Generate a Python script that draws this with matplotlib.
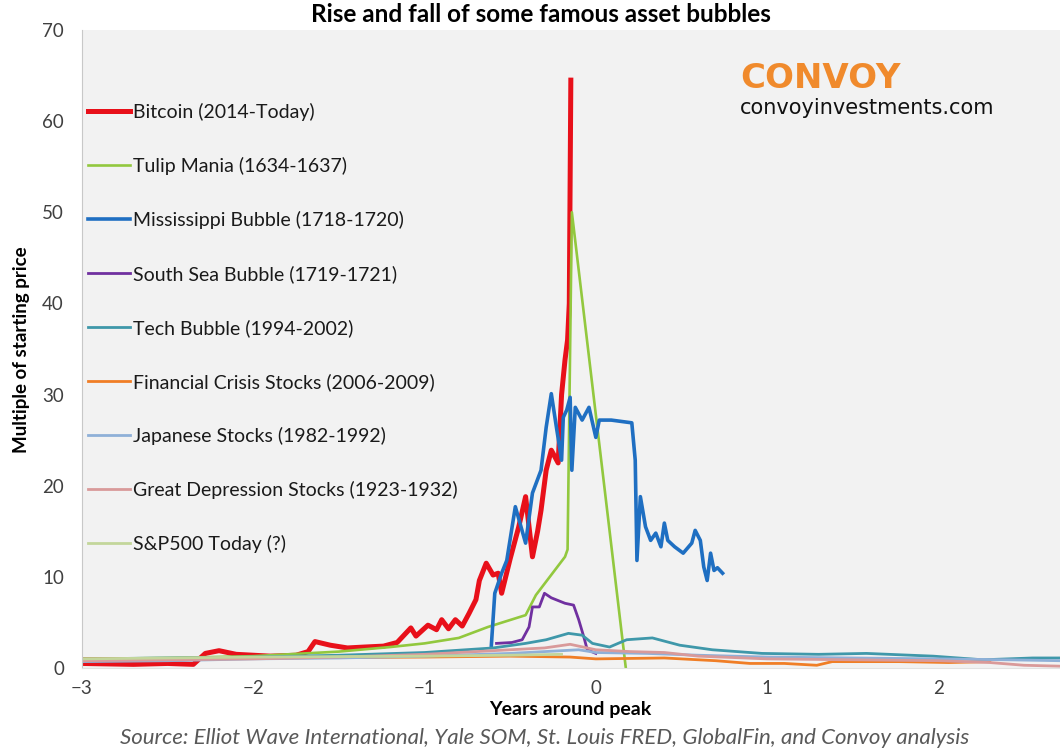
import matplotlib
matplotlib.use("Agg")
import matplotlib.pyplot as plt

# Series: years around peak vs multiple of starting price
btc_x = [-3.0, -2.7, -2.5, -2.35, -2.28, -2.2, -2.1, -2.0, -1.9, -1.75, -1.68, -1.64, -1.55,
         -1.45, -1.35, -1.24, -1.16, -1.08, -1.05, -0.98, -0.93, -0.9, -0.86, -0.82, -0.78,
         -0.74, -0.70, -0.68, -0.64, -0.60, -0.57, -0.55, -0.50, -0.45, -0.41, -0.37, -0.34,
         -0.32, -0.29, -0.26, -0.22, -0.20, -0.18, -0.165, -0.155, -0.146]
btc_y = [0.5, 0.4, 0.5, 0.4, 1.6, 1.9, 1.5, 1.4, 1.3, 1.4, 1.8, 2.9, 2.5, 2.2, 2.3, 2.4, 2.8,
         4.4, 3.5, 4.7, 4.2, 5.3, 4.3, 5.3, 4.6, 6.0, 7.5, 9.6, 11.5, 10.2, 10.4, 8.2, 12.0,
         15.5, 18.8, 12.2, 15.0, 17.3, 21.7, 23.9, 22.5, 30.0, 33.8, 36.0, 40.0, 64.5]

tulip_x = [-3.0, -2.5, -2.0, -1.5, -1.2, -1.0, -0.8, -0.63, -0.41, -0.35, -0.18, -0.165,
           -0.14, 0.175]
tulip_y = [1.0, 1.1, 1.3, 1.8, 2.3, 2.7, 3.3, 4.5, 5.8, 8.0, 12.2, 13.0, 50.0, 0.0]

miss_x = [-0.61, -0.59, -0.55, -0.52, -0.47, -0.41, -0.37, -0.32, -0.29, -0.26, -0.23,
          -0.20, -0.19, -0.17, -0.15, -0.14, -0.12, -0.08, -0.04, 0.0, 0.02, 0.09, 0.21,
          0.23, 0.24, 0.26, 0.29, 0.32, 0.35, 0.38, 0.40, 0.42, 0.46, 0.51, 0.56, 0.58,
          0.61, 0.63, 0.65, 0.67, 0.69, 0.71, 0.74]
miss_y = [2.5, 8.2, 10.4, 11.8, 17.7, 13.7, 19.2, 21.7, 26.4, 30.1, 26.4, 22.8, 27.5, 28.3,
          29.7, 21.7, 28.6, 27.2, 28.6, 25.3, 27.2, 27.2, 26.9, 22.8, 11.8, 18.8, 15.5,
          14.0, 14.8, 13.3, 15.9, 14.0, 13.3, 12.6, 13.7, 15.1, 14.0, 11.1, 9.6, 12.6,
          10.7, 11.0, 10.4]

ssea_x = [-0.58, -0.49, -0.43, -0.39, -0.37, -0.33, -0.30, -0.26, -0.18, -0.13, -0.10,
          -0.07, -0.05, 0.0]
ssea_y = [2.7, 2.8, 3.1, 4.5, 6.7, 6.7, 8.2, 7.7, 7.1, 6.9, 5.3, 3.4, 2.0, 1.6]

tech_x = [-3.0, -2.5, -2.0, -1.5, -1.0, -0.6, -0.41, -0.29, -0.16, -0.08, -0.02, 0.08,
          0.18, 0.33, 0.49, 0.68, 0.97, 1.3, 1.58, 1.97, 2.26, 2.55, 2.71]
tech_y = [1.0, 1.1, 1.2, 1.4, 1.7, 2.2, 2.7, 3.1, 3.8, 3.6, 2.7, 2.3, 3.1, 3.3, 2.5, 2.0,
          1.6, 1.5, 1.6, 1.3, 0.9, 1.1, 1.1]

fin_x = [-3.0, -2.0, -1.0, -0.5, -0.15, 0.0, 0.4, 0.7, 0.9, 1.1, 1.29, 1.38, 1.6, 1.77,
         2.06, 2.3]
fin_y = [1.0, 1.1, 1.2, 1.3, 1.2, 1.0, 1.1, 0.8, 0.5, 0.5, 0.3, 0.7, 0.7, 0.7, 0.6, 0.7]

japan_x = [-3.0, -2.5, -2.0, -1.5, -1.0, -0.5, -0.3, -0.1, 0.0, 0.3, 0.6, 1.0, 1.5, 2.0,
           2.4, 2.71]
japan_y = [0.7, 0.8, 1.0, 1.1, 1.3, 1.6, 1.8, 2.0, 1.7, 1.6, 1.4, 1.2, 1.1, 1.0, 0.9, 0.8]

depr_x = [-3.0, -2.5, -2.0, -1.5, -1.0, -0.6, -0.3, -0.15, 0.0, 0.2, 0.4, 0.6, 1.0, 1.5,
          2.0, 2.3, 2.5, 2.71]
depr_y = [0.8, 0.9, 1.0, 1.2, 1.5, 1.9, 2.2, 2.6, 2.0, 1.8, 1.7, 1.3, 1.0, 0.9, 0.8, 0.6,
          0.3, 0.2]

spx_x = [-3.0, -2.0, -1.0, -0.5, -0.2]
spx_y = [1.0, 1.2, 1.3, 1.4, 1.5]

labels = ["Bitcoin (2014-Today)", "Tulip Mania (1634-1637)", "Mississippi Bubble (1718-1720)",
          "South Sea Bubble (1719-1721)", "Tech Bubble (1994-2002)",
          "Financial Crisis Stocks (2006-2009)", "Japanese Stocks (1982-1992)",
          "Great Depression Stocks (1923-1932)", "S&P500 Today (?)"]
colors = ["#e8101a", "#92c83e", "#1f6fc2", "#7030a0", "#3f98aa", "#f07e26", "#8fb0d8",
          "#d99a9a", "#c3d69b"]
widths = [3.6, 1.9, 2.6, 2.0, 2.0, 2.0, 2.0, 2.0, 2.0]
series = [(btc_x, btc_y), (tulip_x, tulip_y), (miss_x, miss_y), (ssea_x, ssea_y),
          (tech_x, tech_y), (fin_x, fin_y), (japan_x, japan_y), (depr_x, depr_y),
          (spx_x, spx_y)]

plt.rcParams['font.family'] = ['Lato', 'DejaVu Sans']

fig = plt.figure(figsize=(10.6, 7.54), dpi=100)
ax = fig.add_axes([82 / 1060, 86 / 754, 978 / 1060, 638 / 754])
ax.set_facecolor('#f2f2f2')

for (xs, ys), lab, c, w in zip(series, labels, colors, widths):
    ax.plot(xs, ys, color=c, lw=w, label=lab, solid_joinstyle='round')

ax.set_xlim(-3, 2.71)
ax.set_ylim(0, 70)
ax.set_xticks([-3, -2, -1, 0, 1, 2])
ax.set_yticks(range(0, 71, 10))
ax.tick_params(length=0, labelsize=13.5, labelcolor='#404040')
ax.tick_params(axis='y', pad=13)
ax.tick_params(axis='x', pad=9)
for s in ['top', 'right']:
    ax.spines[s].set_visible(False)
ax.spines['left'].set_color('#c8c8c8')
ax.spines['bottom'].set_color('#e2e2e2')

leg = ax.legend(loc='upper left', bbox_to_anchor=(88 / 1060, 1 - 103 / 754),
                bbox_transform=fig.transFigure, frameon=False, fontsize=14,
                handlelength=2.15, handletextpad=0.15, labelspacing=1.85,
                borderpad=0, borderaxespad=0)
for t in leg.get_texts():
    t.set_color('#1a1a1a')

fig.text(541 / 1060, 1 - 15 / 754, "Rise and fall of some famous asset bubbles",
         ha='center', va='center', fontsize=17.5, fontweight='bold')
fig.text(570 / 1060, 1 - 710 / 754, "Years around peak", ha='center', va='center',
         fontsize=14, fontweight='bold')
fig.text(22 / 1060, 1 - 350 / 754, "Multiple of starting price", ha='center', va='center',
         rotation=90, fontsize=13.5, fontweight='bold')
fig.text(545 / 1060, 1 - 738 / 754,
         "Source: Elliot Wave International, Yale SOM, St. Louis FRED, GlobalFin, and Convoy analysis",
         ha='center', va='center', fontsize=16, style='italic', color='#595959')

fig.text(740 / 1060, 1 - 78 / 754, "CONVOY", ha='left', va='center', fontsize=24.5,
         fontweight='bold', color='#f08a2c', family='DejaVu Sans')
fig.text(740 / 1060, 1 - 108 / 754, "convoyinvestments.com", ha='left', va='center',
         fontsize=15, color='#111111', family='DejaVu Sans')

fig.savefig("out.png", dpi=100, facecolor='white')
